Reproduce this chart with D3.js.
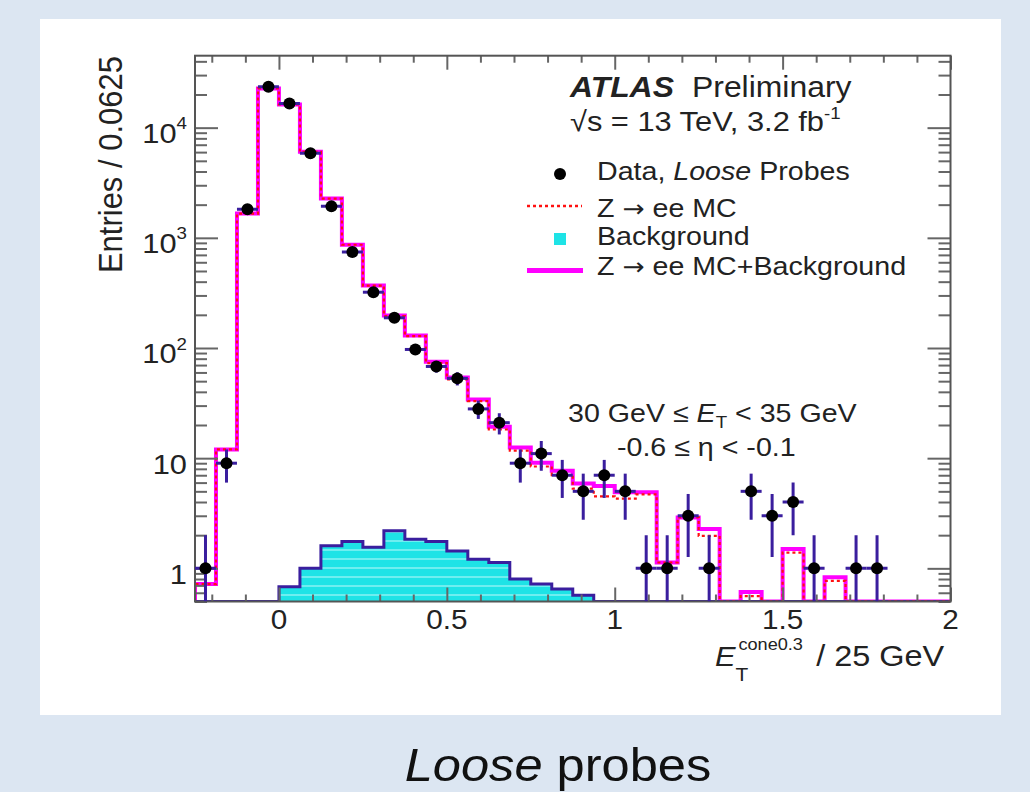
<!DOCTYPE html>
<html>
<head>
<meta charset="utf-8">
<script src="https://cdn.jsdelivr.net/npm/d3@7"></script>
<style>
  body { margin: 0; background: #dce6f2; }
  svg { display: block; font-family: "Liberation Sans", Arial, Helvetica, sans-serif; }
</style>
</head>
<body>
<div id="chart"></div>
<script>
// histogram binning (E_T^cone0.3 / 25 GeV)
const binLow = -0.25;
const binWidth = 0.0625;

// data, Loose probes (entries per bin)
const dataCounts = [1, 9, 1820, 23500, 16600, 5850, 1930, 745, 321, 188, 97, 68, 53, 28, 21, 9, 11, 7, 5, 7,
                    5, 1, 1, 3, 1, 0, 5, 3, 4, 1, 0, 1, 1, 0, 0, 0];
// Z -> ee MC + Background (magenta)
const mcPlusBkg = [0.72, 12, 1660, 22700, 16250, 6030, 2270, 867, 370, 197, 130, 75, 54, 34, 19.3, 12.5, 9.1, 7.7, 5.9, 5.6,
                   4.9, 4.9, 1.13, 2.9, 2.27, 0, 0.61, 0, 1.5, 0, 0.83, 0, 0, 0, 0, 0];
// Z -> ee MC (red dotted)
const zeeMC = [0.72, 12, 1660, 22700, 16250, 6030, 2265, 865, 368, 195, 128, 73, 52, 33, 18.2, 11.7, 8.4, 7.0, 5.3, 4.5,
               4.3, 4.7, 1.13, 2.9, 1.97, 0, 0.56, 0, 1.39, 0, 0.77, 0, 0, 0, 0, 0];
// Background (cyan)
const background = [0, 0, 0, 0, 0.68, 1.0, 1.6, 1.75, 1.55, 2.19, 1.84, 1.75, 1.44, 1.21, 1.13, 0.8, 0.72, 0.65, 0.57, 0,
                    0, 0, 0, 0, 0, 0, 0, 0, 0, 0, 0, 0, 0, 0, 0, 0];

const xMajorTicks = [0, 0.5, 1, 1.5, 2];
const xTickLabels = ["0", "0.5", "1", "1.5", "2"];
const yMajorTicks = [1, 10, 100, 1000, 10000];
const yTickExps = [null, null, "2", "3", "4"];
const yTickBase = ["1", "10", "10", "10", "10"];

const W = 1030, H = 792;
const margin = {top: 55.7, left: 195, right: 79.5, bottom: 190.5};
const textColor = "#222";
const purple = "#3a1e9e";
const stretch = 1.1;

const svg = d3.select("#chart").append("svg")
    .attr("width", W)
    .attr("height", H);

// white slide panel
svg.append("rect")
    .attr("x", 40).attr("y", 19)
    .attr("width", 961).attr("height", 696)
    .attr("fill", "#fff");

const x = d3.scaleLinear()
    .domain([binLow, 2])
    .range([margin.left, W - margin.right]);

const y = d3.scaleLog()
    .domain([0.5, 45000])
    .range([H - margin.bottom, margin.top]);

const yMin = y.domain()[0];
const yBottom = y.range()[0];
const edge = i => binLow + i * binWidth;

const defs = svg.append("defs");
defs.append("clipPath").attr("id", "frameClip")
  .append("rect")
    .attr("x", x.range()[0]).attr("y", y.range()[1])
    .attr("width", x.range()[1] - x.range()[0])
    .attr("height", y.range()[0] - y.range()[1]);

const pat = defs.append("pattern")
    .attr("id", "bkgFill")
    .attr("patternUnits", "userSpaceOnUse")
    .attr("width", 12).attr("height", 9);
pat.append("rect").attr("width", 12).attr("height", 9).attr("fill", "#1ee3e6");
pat.append("rect").attr("y", 0).attr("width", 12).attr("height", 2).attr("fill", "#6eeef0");

function stepPath(vals) {
    let p = `M${x(edge(0))},${yBottom}`;
    vals.forEach((v, i) => {
        const yy = v > yMin ? y(v) : yBottom;
        p += `V${yy}H${x(edge(i + 1))}`;
    });
    return p + `V${yBottom}`;
}

const plot = svg.append("g").attr("clip-path", "url(#frameClip)");

// background fill + MC+Bkg + background outline + MC
plot.append("path")
    .attr("d", stepPath(background) + "Z")
    .attr("fill", "url(#bkgFill)")
    .attr("stroke", "none");

plot.append("path")
    .attr("d", stepPath(mcPlusBkg))
    .attr("fill", "none")
    .attr("stroke", "#ff00ff")
    .attr("stroke-width", 4);

plot.append("path")
    .attr("d", stepPath(background))
    .attr("fill", "none")
    .attr("stroke", purple)
    .attr("stroke-width", 3);

plot.append("path")
    .attr("d", stepPath(zeeMC))
    .attr("fill", "none")
    .attr("stroke", "#ff1010")
    .attr("stroke-width", 2.2)
    .attr("stroke-dasharray", "3,3");

// axis ticks (ROOT style, inside the frame on all sides)
function tickAxis(axis, transform) {
    const g = svg.append("g")
        .attr("transform", transform)
        .call(axis);
    g.select(".domain").remove();
    g.selectAll("line").attr("stroke", "#666").attr("stroke-width", 2);
    g.selectAll("text").remove();
}

const xMinor = d3.range(-0.2, 2.01, 0.1).filter(v => !xMajorTicks.some(m => Math.abs(m - v) < 1e-6));
const yMinor = [];
[0.1, 1, 10, 100, 1000, 10000].forEach(d => {
    for (let k = 2; k <= 9; k++) {
        const v = k * d;
        if (v >= 0.5 && v <= 45000) yMinor.push(v);
    }
});

const atBottom = `translate(0,${yBottom})`, atTop = `translate(0,${margin.top})`;
const atLeft = `translate(${margin.left},0)`, atRight = `translate(${W - margin.right},0)`;
tickAxis(d3.axisBottom(x).tickValues(xMajorTicks).tickSize(-14), atBottom);
tickAxis(d3.axisBottom(x).tickValues(xMinor).tickSize(-7), atBottom);
tickAxis(d3.axisTop(x).tickValues(xMajorTicks).tickSize(-14), atTop);
tickAxis(d3.axisTop(x).tickValues(xMinor).tickSize(-7), atTop);
tickAxis(d3.axisLeft(y).tickValues(yMajorTicks).tickSize(-23), atLeft);
tickAxis(d3.axisLeft(y).tickValues(yMinor).tickSize(-12), atLeft);
tickAxis(d3.axisRight(y).tickValues(yMajorTicks).tickSize(-23), atRight);
tickAxis(d3.axisRight(y).tickValues(yMinor).tickSize(-12), atRight);

// frame
svg.append("rect")
    .attr("x", x.range()[0]).attr("y", y.range()[1])
    .attr("width", x.range()[1] - x.range()[0])
    .attr("height", y.range()[0] - y.range()[1])
    .attr("fill", "none")
    .attr("stroke", "#555")
    .attr("stroke-width", 2);

// data points with error bars
const pts = dataCounts.map((n, i) => ({n: n, lo: edge(i), hi: edge(i + 1), c: edge(i) + binWidth / 2}))
    .filter(d => d.n > 0);
const dataG = svg.append("g").attr("clip-path", "url(#frameClip)");
dataG.selectAll(".ev").data(pts).join("line")
    .attr("class", "ev")
    .attr("x1", d => x(d.c)).attr("x2", d => x(d.c))
    .attr("y1", d => (d.n - Math.sqrt(d.n)) > yMin ? y(d.n - Math.sqrt(d.n)) : yBottom)
    .attr("y2", d => y(d.n + Math.sqrt(d.n)))
    .attr("stroke", purple).attr("stroke-width", 3);
dataG.selectAll(".eh").data(pts).join("line")
    .attr("class", "eh")
    .attr("x1", d => x(d.lo)).attr("x2", d => x(d.hi))
    .attr("y1", d => y(d.n)).attr("y2", d => y(d.n))
    .attr("stroke", purple).attr("stroke-width", 3);
dataG.selectAll("circle").data(pts).join("circle")
    .attr("cx", d => x(d.c)).attr("cy", d => y(d.n))
    .attr("r", 6)
    .attr("fill", "#000");

// text helper: slightly wide lettering like the original slide
function label(px, py, size, anchor, extra) {
    return svg.append("text")
        .attr("transform", `translate(${px},${py}) scale(${stretch},1)` + (extra || ""))
        .attr("font-size", size)
        .attr("text-anchor", anchor || "start")
        .attr("fill", textColor);
}

// y tick labels
yMajorTicks.forEach((v, i) => {
    const t = label(187, y(v) + 15.5, 28, "end");
    t.append("tspan").text(yTickBase[i]);
    if (yTickExps[i]) {
        t.append("tspan").attr("font-size", 17).attr("dy", -14).text(yTickExps[i]);
    }
});

// x tick labels
xMajorTicks.forEach((v, i) => {
    label(x(v), 629, 27, "middle").text(xTickLabels[i]);
});

// axis titles
label(122, 56, 31, "end", " rotate(-90)").text("Entries / 0.0625");
const xt = label(715, 666, 28);
xt.append("tspan").attr("font-style", "italic").text("E");
xt.append("tspan").attr("font-size", 19).attr("dy", 15).text("T");
xt.append("tspan").attr("font-size", 16.5).attr("dx", -9).attr("dy", -31).text("cone0.3");
xt.append("tspan").attr("font-size", 29.5).attr("dx", 12).attr("dy", 16).text("/ 25 GeV");

// ATLAS label
label(570, 97, 29).attr("font-weight", "bold").attr("font-style", "italic").text("ATLAS");
label(692, 97, 29).text("Preliminary");
const lumi = label(570, 131, 28);
lumi.append("tspan").text("\u221As = 13 TeV, 3.2 fb");
lumi.append("tspan").attr("font-size", 17).attr("dy", -12).text("-1");

// legend
const legendX = 597;
const arrowFont = "DejaVu Sans";
svg.append("circle").attr("cx", 560).attr("cy", 174).attr("r", 6).attr("fill", "#000");
const l1 = label(legendX, 180, 26);
l1.append("tspan").text("Data, ");
l1.append("tspan").attr("font-style", "italic").text("Loose");
l1.append("tspan").text(" Probes");

svg.append("line").attr("x1", 527).attr("x2", 582).attr("y1", 206).attr("y2", 206)
    .attr("stroke", "#ff1010").attr("stroke-width", 2.5).attr("stroke-dasharray", "3,3");
const l2 = label(legendX, 216.5, 26);
l2.append("tspan").text("Z ");
l2.append("tspan").attr("font-family", arrowFont).attr("font-size", 24).text("\u2192");
l2.append("tspan").text(" ee MC");

svg.append("rect").attr("x", 554).attr("y", 233).attr("width", 12).attr("height", 12).attr("fill", "#1ee3e6");
label(legendX, 245, 26).text("Background");

svg.append("line").attr("x1", 527).attr("x2", 583).attr("y1", 270.5).attr("y2", 270.5)
    .attr("stroke", "#ff00ff").attr("stroke-width", 5);
const l4 = label(legendX, 275, 26);
l4.append("tspan").text("Z ");
l4.append("tspan").attr("font-family", arrowFont).attr("font-size", 24).text("\u2192");
l4.append("tspan").text(" ee MC+Background");

// selection text
const sel = label(568, 421.5, 26);
sel.append("tspan").text("30 GeV \u2264 ");
sel.append("tspan").attr("font-style", "italic").text("E");
sel.append("tspan").attr("font-size", 17).attr("dy", 6).text("T");
sel.append("tspan").attr("dy", -6).text(" < 35 GeV");
label(617, 456, 26).text("-0.6 \u2264 \u03B7 < -0.1");

// slide caption
const cap = label(558, 781, 46, "middle").attr("fill", "#111");
cap.append("tspan").attr("font-style", "italic").text("Loose");
cap.append("tspan").text(" probes");
</script>
</body>
</html>
